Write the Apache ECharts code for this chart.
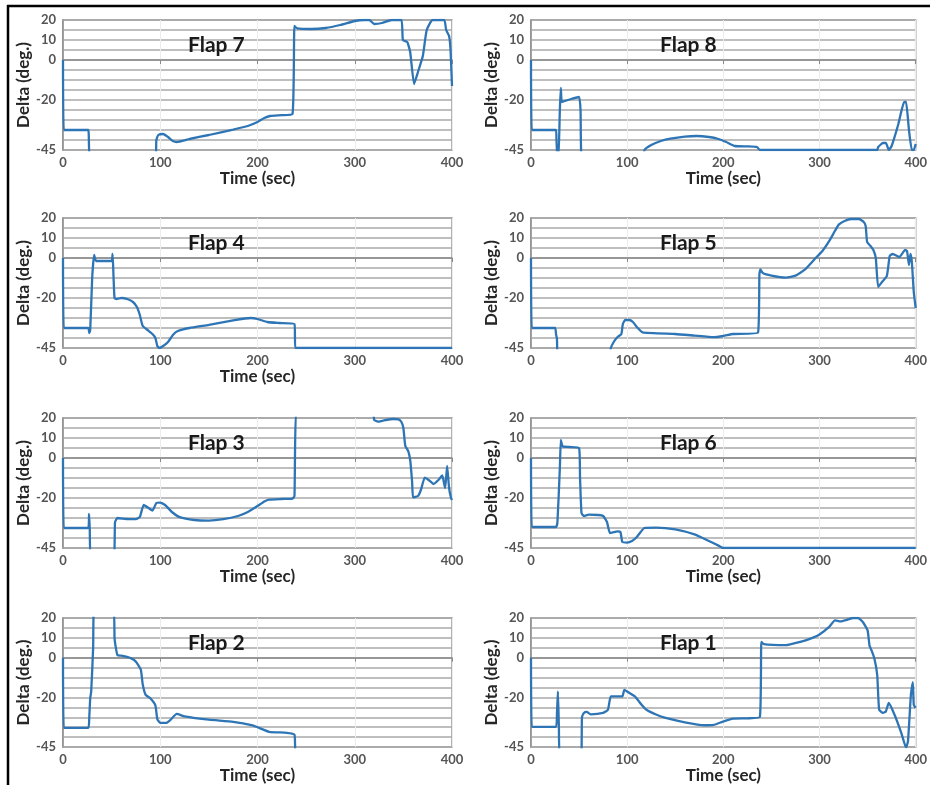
<!DOCTYPE html>
<html>
<head>
<meta charset="utf-8">
<script src="https://cdn.jsdelivr.net/npm/echarts@6/dist/echarts.min.js"></script>
<style>
html,body{margin:0;padding:0;background:#fff;}
#chart{width:930px;height:785px;}
</style>
</head>
<body>
<div id="chart"></div>
<script>
// ---- data (time in sec, delta in deg.) ----
const flapNames = ['Flap 7','Flap 8','Flap 4','Flap 5','Flap 3','Flap 6','Flap 2','Flap 1'];
const xTicks = [0,100,200,300,400];
const yTickLabels = [20,10,0,-20,-45];
const xAxisTitle = 'Time (sec)';
const yAxisTitle = 'Delta (deg.)';

const flap7 = [[0,0],[0.8,-35],[26,-35],[26.5,-38],[28,-50],[95,-50],[96,-40],[98,-37.5],[103,-37],[108,-38.5],[113,-40.5],[117,-41],[130,-39.5],[150,-37.5],[175,-34.8],[190,-33],[200,-31],[207,-29],[213,-28],[225,-27.6],[236,-27],[238,17],[241,15.8],[255,15.5],[270,16],[285,17.5],[300,19.5],[310,20],[315,20],[320,18],[328,18.5],[338,20],[348,20],[349.5,10],[354,9],[357,4],[361,-12],[365,-6],[370,2],[374,15],[380,20],[392,20],[394,15],[397,12],[398.5,5],[400,-13]];
const flap8 = [[0,0],[0.8,-35],[26,-35],[26.5,-40],[27.5,-50],[28.5,-50],[30,-25],[31,-14],[32,-21],[35,-20.5],[42,-19.5],[50,-18.5],[51.5,-25],[53,-50],[116,-50],[118,-45],[125,-42.5],[135,-40.5],[145,-39.3],[160,-38.3],[172,-38],[185,-38.5],[195,-39.5],[203,-41],[212,-43],[225,-43.2],[235,-43.5],[238,-45],[360,-45],[361,-43.5],[366,-41.5],[369,-41.5],[372,-45],[375,-43],[382,-32],[388,-21],[390,-21],[393,-35],[396,-45],[398,-45],[400,-42]];
const flap4 = [[0,0],[0.8,-35],[26,-35],[27,-37.5],[28,-36],[30,-10],[32,1.5],[34,-1.5],[42,-1.5],[50,-1.5],[51,2],[52,-10],[53,-20],[55,-20.5],[60,-20],[66,-20.5],[72,-22],[76,-24.5],[79,-28.5],[82,-34],[87,-36],[92,-38],[95,-40],[97,-44],[99,-45],[103,-44],[108,-42],[113,-38.5],[118,-36.5],[130,-35],[150,-33.4],[175,-31.2],[193,-30],[200,-30.5],[210,-32],[222,-32.5],[238,-33],[239,-45],[400,-45]];
const flap5 = [[0,0],[0.8,-35],[25,-35],[26,-38],[27,-40.5],[28,-50],[81,-50],[83,-45],[86,-42],[90,-39.5],[94,-38],[95.5,-33],[98,-31],[102,-31],[106,-32],[110,-34.5],[116,-37.2],[150,-38],[170,-38.8],[190,-39.6],[200,-39],[210,-38],[236,-37.3],[237.5,-8],[238.5,-5.7],[241,-7.5],[250,-8.8],[265,-9.8],[275,-8.8],[285,-5.7],[295,-0.5],[303,3.5],[310,8.4],[316,13.5],[320,16.7],[326,18.5],[333,19.5],[341,19.5],[346,18],[348,16],[349.5,8],[353,6],[356,4],[358.5,0],[361,-14.5],[365,-12],[370,-9],[373,1],[376,2],[383,0.5],[389,4],[391,3.5],[393,-3.5],[394.5,2],[396,-2],[398,-17],[400,-25]];
const flap3 = [[0,0],[0.8,-35],[26,-35],[26.8,-28],[27.5,-35],[28.5,-50],[52,-50],[53.5,-32],[56,-30],[65,-30.5],[75,-30.6],[79,-29.5],[83,-23.5],[88,-25],[92,-26.3],[96,-22.5],[100,-22.3],[105,-23.5],[112,-27],[120,-29.6],[135,-31],[150,-31.3],[165,-30.6],[180,-29],[190,-27],[200,-24],[207,-21.7],[212,-20.8],[225,-20.5],[236,-20.3],[238,-19],[241,25],[318,25],[320,19],[325,18.2],[330,18.8],[340,19.5],[345,19.3],[348,18],[350,15],[352,6],[355,3.4],[357,-1],[359,-12],[360,-19.7],[365,-19],[368,-16],[372,-9.8],[376,-11],[381,-13],[386,-11],[390,-8.7],[392,-13],[393,-15],[395,-4],[397,-15],[399,-20],[400,-21]];
const flap6 = [[0,0],[0.8,-34.5],[26,-34.5],[27.5,-32],[30,-5],[31,9],[32,7],[33,5.8],[40,5.5],[50,5],[51,-10],[52.5,-27.5],[55,-29],[60,-28.3],[70,-28.5],[75,-29],[79,-32],[82,-37.5],[85,-37.2],[90,-36.7],[93,-37],[95,-42],[100,-42.3],[105,-41.5],[110,-39.5],[114,-37],[118,-35],[130,-34.8],[150,-35.7],[170,-38.2],[185,-41.5],[195,-43.8],[200,-45],[400,-45]];
const flap2 = [[0,0],[0.8,-35.3],[26,-35.3],[27,-30],[28,-20.3],[29,-17],[31,5],[32,25],[52,25],[53,10],[54,6],[56,1.3],[60,1],[70,-0.3],[75,-2],[80,-6],[82,-13.5],[85,-18.7],[90,-20.5],[95,-24],[97,-31],[100,-32.8],[106,-32.8],[110,-31.5],[117,-28.3],[125,-29.5],[150,-31.2],[175,-32.3],[195,-34],[200,-35],[212,-37.3],[230,-37.8],[238,-38.7],[240,-50],[400,-50]];
const flap1 = [[0,0],[0.8,-34.8],[26,-34.8],[27,-28],[28,-17],[29,-35],[30,-50],[52,-50],[53,-30],[55,-27.8],[58,-27.3],[62,-28.5],[75,-27.8],[80,-26.2],[83,-19.5],[90,-19.5],[95,-19.5],[97,-16.2],[100,-17],[108,-19.5],[115,-23.7],[120,-26.2],[130,-28.6],[140,-30.3],[160,-32.5],[180,-34],[190,-33.8],[197,-32.6],[210,-30.7],[225,-30.5],[238,-29.8],[239.5,8],[242,6.8],[265,6.3],[280,8],[290,9.5],[300,11.7],[310,15.5],[316,18.8],[322,18.3],[328,19],[335,20],[340,20],[345,18],[350,13.8],[352,6],[354,3.8],[357,-0.3],[360,-8.7],[362,-26.2],[366,-27.8],[369,-27],[372,-22.8],[378,-28.7],[385,-37.8],[390,-45.3],[392,-42],[395,-18.7],[397,-12.3],[398,-23.7],[400,-25.3]];

const flapData = [flap7, flap8, flap4, flap5, flap3, flap6, flap2, flap1];
const showXName = [true, true, true, false, true, true, true, true];

// ---- layout ----
const colLeft = [63, 531];
const colWidth = [389, 387];
const rowTop = [20, 218, 418, 618];
const plotH = 130;
const lineColor = '#2e75b6';
const labelFont = 'Lato, "Open Sans", sans-serif';

const chart = echarts.init(document.getElementById('chart'), null, {renderer: 'canvas'});

const grids = [], xAxes = [], yAxes = [], series = [], titles = [];
flapNames.forEach((name, i) => {
  const col = i % 2, row = Math.floor(i / 2);
  grids.push({
    left: colLeft[col], top: rowTop[row], width: colWidth[col], height: plotH,
    show: true, borderColor: '#9a9a9a', borderWidth: 1.5, backgroundColor: '#fff'
  });
  xAxes.push({
    type: 'value', gridIndex: i, min: xTicks[0], max: xTicks[xTicks.length - 1], interval: 100,
    name: showXName[i] ? xAxisTitle : '', nameLocation: 'middle', nameGap: 19,
    nameTextStyle: {fontFamily: labelFont, fontWeight: 'bold', fontSize: 17, color: '#262626'},
    axisLine: {show: true, lineStyle: {color: '#8a8a8a', width: 1.5}},
    axisTick: {show: true, length: 4, lineStyle: {color: '#8a8a8a'}},
    axisLabel: {fontFamily: labelFont, fontWeight: 'bold', fontSize: 13, color: '#555', margin: 6},
    splitLine: {show: true, lineStyle: {color: '#ececec', width: 1}}
  });
  yAxes.push({
    type: 'value', gridIndex: i, min: -45, max: 20, interval: 5,
    name: yAxisTitle, nameLocation: 'middle', nameGap: 28, nameRotate: 90,
    nameTextStyle: {fontFamily: labelFont, fontWeight: 'bold', fontSize: 17, color: '#262626'},
    axisLine: {show: true, lineStyle: {color: '#8a8a8a', width: 1.5}},
    axisTick: {show: false},
    axisLabel: {
      fontFamily: labelFont, fontWeight: 'bold', fontSize: 13, color: '#555', margin: 7,
      formatter: v => (yTickLabels.indexOf(v) >= 0 ? String(v) : '')
    },
    splitLine: {show: true, lineStyle: {color: '#a8a8a8', width: 1.5}}
  });
  series.push({
    type: 'line', xAxisIndex: i, yAxisIndex: i, data: flapData[i],
    showSymbol: false, clip: true, smooth: 0.15,
    lineStyle: {color: lineColor, width: 2.3}
  });
  titles.push({
    text: name, left: colLeft[col] + (col === 0 ? 120 : 124), top: rowTop[row] + 10,
    textStyle: {fontFamily: labelFont, fontWeight: 'bold', fontSize: 21, color: '#1a1a1a'}
  });
});

chart.setOption({
  animation: false,
  backgroundColor: '#fff',
  title: titles,
  grid: grids,
  xAxis: xAxes,
  yAxis: yAxes,
  series: series,
  graphic: [
    {type: 'line', shape: {x1: 8, y1: 5, x2: 8, y2: 785}, style: {stroke: '#000', lineWidth: 2.5}, z: 100},
    {type: 'line', shape: {x1: 7, y1: 6, x2: 930, y2: 6}, style: {stroke: '#000', lineWidth: 2.5}, z: 100}
  ]
});
</script>
</body>
</html>
